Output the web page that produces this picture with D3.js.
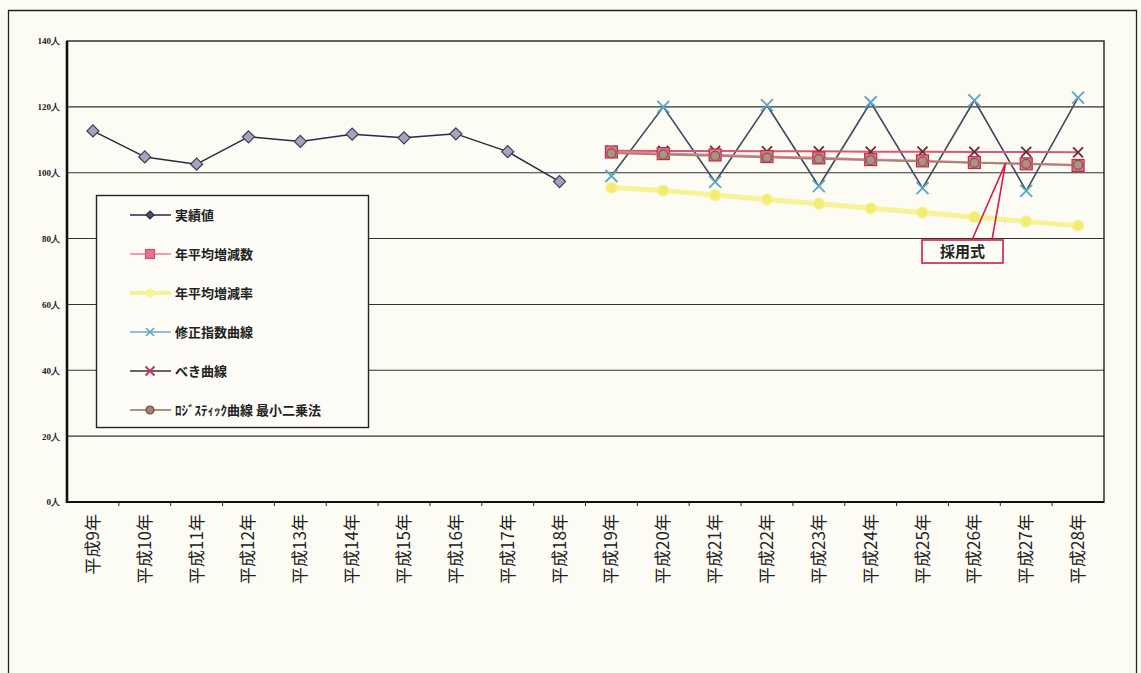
<!DOCTYPE html>
<html lang="ja">
<head>
<meta charset="utf-8">
<script src="https://cdn.jsdelivr.net/npm/d3@7/dist/d3.min.js"></script>
<style>
  html, body { margin: 0; padding: 0; background: #fcfbf4; }
  svg { display: block; font-family: "Noto Sans CJK JP", "Noto Sans", sans-serif; }
</style>
</head>
<body>
<svg id="chart" width="1141" height="673"></svg>
<script>
// 年次（カテゴリ）
const years = ["平成9年", "平成10年", "平成11年", "平成12年", "平成13年", "平成14年", "平成15年",
  "平成16年", "平成17年", "平成18年", "平成19年", "平成20年", "平成21年", "平成22年", "平成23年",
  "平成24年", "平成25年", "平成26年", "平成27年", "平成28年"];
const actualYears = years.slice(0, 10);
const forecastYears = years.slice(10);

// 実績値（平成9年〜18年）
const actual = [112.7, 104.8, 102.6, 110.9, 109.5, 111.7, 110.6, 111.8, 106.4, 97.3];
// 推計値（平成19年〜28年）
const avgChangeCount = [106.3, 105.8, 105.4, 104.9, 104.5, 104.0, 103.6, 103.1, 102.7, 102.2];
const avgChangeRate = [95.5, 94.6, 93.2, 91.9, 90.6, 89.2, 87.9, 86.5, 85.2, 83.9];
const modExponential = [99.0, 120.0, 97.2, 120.5, 95.9, 121.4, 95.3, 122.0, 94.5, 122.8];
const powerCurve = [106.7, 106.6, 106.6, 106.5, 106.5, 106.4, 106.4, 106.3, 106.3, 106.2];
const logistic = [105.9, 105.5, 105.1, 104.6, 104.2, 103.8, 103.4, 103.0, 102.7, 102.4];

// 縦軸の目盛
const yTicks = [0, 20, 40, 60, 80, 100, 120, 140];
const yTickLabels = ["0人", "20人", "40人", "60人", "80人", "100人", "120人", "140人"];

const legendLabels = ["実績値", "年平均増減数", "年平均増減率", "修正指数曲線", "べき曲線", "ﾛｼﾞｽﾃｨｯｸ曲線 最小二乗法"];
const calloutText = "採用式";

const svg = d3.select("#chart");
const plot = { left: 67, right: 1104, top: 41, bottom: 502 };

const x = d3.scaleBand().domain(years).range([plot.left, plot.right]).padding(0);
const xc = d => x(d) + x.bandwidth() / 2;
const y = d3.scaleLinear().domain([0, 140]).range([plot.bottom, plot.top]);

// 外枠
svg.append("path")
  .attr("d", "M8.5,673 V10.5 H1136.5 V673")
  .attr("fill", "none").attr("stroke", "#222").attr("stroke-width", 1.3);

// 目盛線
svg.append("g").selectAll("line").data(yTicks.filter(v => v > 0 && v < 140)).join("line")
  .attr("x1", plot.left).attr("x2", plot.right)
  .attr("y1", d => y(d)).attr("y2", d => y(d))
  .attr("stroke", "#333").attr("stroke-width", 1.1);

// プロット枠
svg.append("rect")
  .attr("x", plot.left).attr("y", plot.top)
  .attr("width", plot.right - plot.left).attr("height", plot.bottom - plot.top)
  .attr("fill", "none").attr("stroke", "#222").attr("stroke-width", 1.4);
svg.append("line").attr("x1", plot.left).attr("x2", plot.left)
  .attr("y1", plot.top).attr("y2", plot.bottom + 1)
  .attr("stroke", "#111").attr("stroke-width", 2.6);
svg.append("line").attr("x1", plot.left).attr("x2", plot.right)
  .attr("y1", plot.bottom).attr("y2", plot.bottom)
  .attr("stroke", "#111").attr("stroke-width", 2);

// 縦軸
const yAxis = d3.axisLeft(y).tickValues(yTicks)
  .tickFormat((d, i) => yTickLabels[i]).tickSize(0).tickPadding(7);
svg.append("g").attr("transform", `translate(${plot.left},0)`).call(yAxis)
  .call(g => g.select(".domain").remove())
  .selectAll("text")
  .attr("font-family", "'Liberation Serif', serif")
  .attr("font-size", 9).attr("font-weight", "bold").attr("fill", "#222");

// 横軸
const xAxis = d3.axisBottom(x).tickSize(0).tickFormat("");
svg.append("g").attr("transform", `translate(0,${plot.bottom})`).call(xAxis)
  .call(g => g.select(".domain").remove());
svg.append("g").selectAll("line").data(years.slice(1)).join("line")
  .attr("x1", d => x(d)).attr("x2", d => x(d))
  .attr("y1", plot.bottom).attr("y2", plot.bottom + 4)
  .attr("stroke", "#222").attr("stroke-width", 1);
svg.append("g").selectAll("text").data(years).join("text")
  .attr("transform", d => `translate(${xc(d) + 6},${plot.bottom + 12}) rotate(-90)`)
  .attr("text-anchor", "end")
  .attr("font-size", 17).attr("fill", "#222")
  .text(d => d);

// 系列描画
const line = d3.line().x(d => xc(d.year)).y(d => y(d.value));
const pairs = (ys, vs) => ys.map((yr, i) => ({ year: yr, value: vs[i] }));

function diamond(g, s, fill, stroke) {
  g.append("path").attr("d", `M0,${-s}L${s},0L0,${s}L${-s},0Z`)
    .attr("fill", fill).attr("stroke", stroke).attr("stroke-width", 1.2);
}
function square(g, s, fill, stroke) {
  g.append("rect").attr("x", -s).attr("y", -s).attr("width", 2 * s).attr("height", 2 * s)
    .attr("fill", fill).attr("stroke", stroke).attr("stroke-width", 1.2);
}
function cross(g, s, stroke, w) {
  g.append("path").attr("d", `M${-s},${-s}L${s},${s}M${s},${-s}L${-s},${s}`)
    .attr("stroke", stroke).attr("stroke-width", w).attr("fill", "none");
}
function circle(g, r, fill, stroke) {
  g.append("circle").attr("r", r).attr("fill", fill).attr("stroke", stroke).attr("stroke-width", 1.2);
}

const series = [
  { name: legendLabels[2], data: pairs(forecastYears, avgChangeRate), color: "#f6f296", width: 5,
    marker: g => circle(g, 5.5, "#f2ed72", "#f6f296") },
  { name: legendLabels[3], data: pairs(forecastYears, modExponential), color: "#3e4a5e", width: 1.6,
    marker: g => cross(g, 6, "#5aa6c4", 1.8) },
  { name: legendLabels[4], data: pairs(forecastYears, powerCurve), color: "#d45a78", width: 2,
    marker: g => cross(g, 5, "#6a2a30", 1.8) },
  { name: legendLabels[1], data: pairs(forecastYears, avgChangeCount), color: "#ee7a96", width: 2.2,
    marker: g => square(g, 6, "#e8708c", "#b8304c") },
  { name: legendLabels[5], data: pairs(forecastYears, logistic), color: "#a08470", width: 1.6,
    marker: g => circle(g, 4.5, "#b09080", "#7a5a4a") },
  { name: legendLabels[0], data: pairs(actualYears, actual), color: "#2a2a40", width: 1.5,
    marker: g => diamond(g, 6, "#a4a4c0", "#3a3a50") }
];

series.forEach(s => {
  const g = svg.append("g");
  g.append("path").datum(s.data).attr("d", line)
    .attr("fill", "none").attr("stroke", s.color).attr("stroke-width", s.width)
    .attr("stroke-linejoin", "round");
  g.selectAll("g.pt").data(s.data).join("g").attr("class", "pt")
    .attr("transform", d => `translate(${xc(d.year)},${y(d.value)})`)
    .each(function () { s.marker(d3.select(this)); });
});

// 凡例
const legend = svg.append("g");
legend.append("rect").attr("x", 96.5).attr("y", 195.5).attr("width", 272).attr("height", 232)
  .attr("fill", "#fdfcf6").attr("stroke", "#222").attr("stroke-width", 1.4);
const legendStyle = [
  { color: "#2a2a40", marker: g => diamond(g, 4, "#505070", "#2a2a40") },
  { color: "#ee7a96", marker: g => square(g, 4.5, "#e8708c", "#d05070") },
  { color: "#f6f296", marker: g => circle(g, 4, "#f6f296", "#f6f296"), width: 4 },
  { color: "#6aaccc", marker: g => cross(g, 4, "#5aa6c4", 1.6) },
  { color: "#333", marker: g => cross(g, 4.5, "#c03868", 2) },
  { color: "#8a7060", marker: g => circle(g, 4, "#a08070", "#6a5040") }
];
legendLabels.forEach((lbl, i) => {
  const ly = 215 + i * 39;
  const st = legendStyle[i];
  const row = legend.append("g").attr("transform", `translate(0,${ly})`);
  row.append("line").attr("x1", 130).attr("x2", 171).attr("y1", 0).attr("y2", 0)
    .attr("stroke", st.color).attr("stroke-width", st.width || 1.5);
  st.marker(row.append("g").attr("transform", "translate(150,0)"));
  row.append("text").attr("x", 175).attr("y", 0).attr("dy", "0.36em")
    .attr("font-size", 13).attr("font-weight", "bold").attr("fill", "#222").text(lbl);
});

// 採用式の吹き出し
const tipFrac = 0.6;
const tipX = xc(years[17]) + tipFrac * x.bandwidth();
const tipY = y(logistic[7] + tipFrac * (logistic[8] - logistic[7]));
const box = { x: 922, y: 240, w: 81, h: 23 };
const callout = svg.append("g");
callout.append("path")
  .attr("d", `M${box.x + 50},${box.y} L${tipX},${tipY} L${box.x + 70},${box.y}`)
  .attr("fill", "none").attr("stroke", "#d0204a").attr("stroke-width", 1.6);
callout.append("rect").attr("x", box.x).attr("y", box.y).attr("width", box.w).attr("height", box.h)
  .attr("fill", "#fdfcf6").attr("stroke", "#c8204a").attr("stroke-width", 1.6);
callout.append("text").attr("x", box.x + box.w / 2).attr("y", box.y + box.h / 2).attr("dy", "0.36em")
  .attr("text-anchor", "middle").attr("font-size", 15).attr("font-weight", "bold").attr("fill", "#222")
  .text(calloutText);
</script>
</body>
</html>
